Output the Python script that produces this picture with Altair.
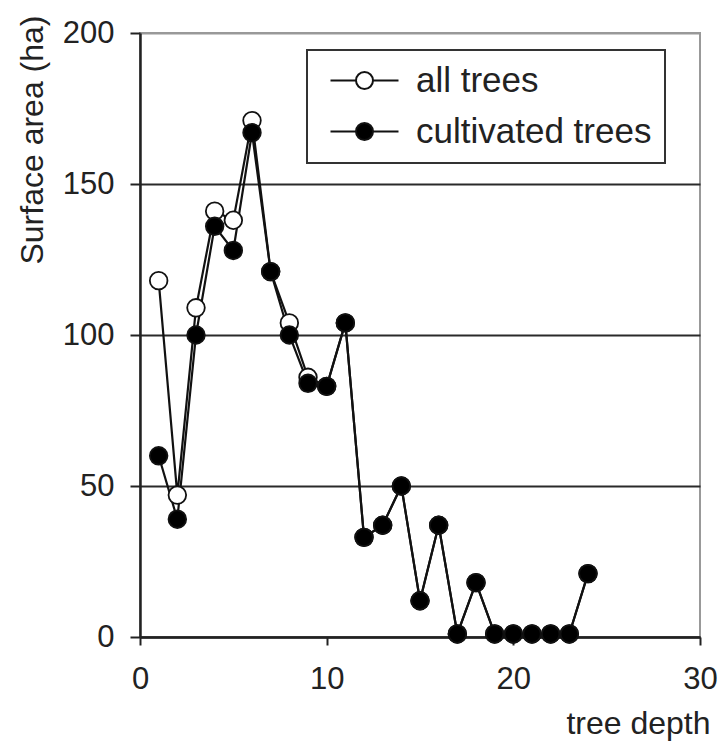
import altair as alt
import pandas as pd

depth = list(range(1, 25))
all_trees = [118, 47, 109, 141, 138, 171, 121, 104, 86, 83, 104, 33, 37, 50, 12, 37, 1, 18, 1, 1, 1, 1, 1, 21]
cultivated = [60, 39, 100, 136, 128, 167, 121, 100, 84, 83, 104, 33, 37, 50, 12, 37, 1, 18, 1, 1, 1, 1, 1, 21]
series_names = ["all trees", "cultivated trees"]
x_ticks = [0, 10, 20, 30]
y_ticks = [0, 50, 100, 150, 200]

rows = []
for d, v in zip(depth, all_trees):
    rows.append({"depth": d, "area": v, "series": series_names[0], "order": 0})
for d, v in zip(depth, cultivated):
    rows.append({"depth": d, "area": v, "series": series_names[1], "order": 1})
df = pd.DataFrame(rows)

FONT = "Liberation Sans"

x = alt.X(
    "depth:Q",
    scale=alt.Scale(domain=[0, 30], nice=False, zero=False),
    axis=alt.Axis(
        values=x_ticks, title="tree depth", grid=False, labelFlush=False,
        domainColor="#222", domainWidth=2.5, tickColor="#222", tickWidth=2, tickSize=8,
        labelFontSize=31, labelFont=FONT, labelColor="#222", labelPadding=19,
        titleFontSize=32, titleFont=FONT, titleFontWeight="normal", titleColor="#222",
        titleAnchor="end", titleAlign="right", titleBaseline="alphabetic",
        titleX=570, titleY=96,
    ),
)
y = alt.Y(
    "area:Q",
    scale=alt.Scale(domain=[0, 200], nice=False),
    axis=alt.Axis(
        values=y_ticks, title="Surface area (ha)", grid=True, labelFlush=False,
        gridColor={"condition": {"test": "datum.value === 200", "value": "#999"}, "value": "#2a2a2a"},
        gridWidth=2.2,
        domainColor="#222", domainWidth=2.5, tickColor="#222", tickWidth=2, tickSize=10,
        labelFontSize=31, labelFont=FONT, labelColor="#222", labelPadding=16,
        titleFontSize=32, titleFont=FONT, titleFontWeight="normal", titleColor="#222",
        titleAlign="right", titleBaseline="middle", titleAngle=270,
        titleX=-108, titleY=-18,
    ),
)

base = alt.Chart(df)

lines = base.mark_line(color="#111", strokeWidth=2.2).encode(
    x=x, y=y, detail="series:N", order="depth:Q"
)

legend_symbol = "M-4,0L-1,0M1,0L4,0M-1,0A1,1,0,1,1,1,0A1,1,0,1,1,-1,0Z"

points = base.mark_point(shape="circle", filled=True, size=310, stroke="#111", strokeWidth=1.8, opacity=1).encode(
    x=x, y=y,
    fill=alt.Fill(
        "series:N",
        scale=alt.Scale(domain=series_names, range=["white", "black"]),
        legend=alt.Legend(
            title=None, orient="none", legendX=167, legendY=17,
            symbolType=legend_symbol, symbolSize=289, symbolStrokeColor="#111", symbolStrokeWidth=2,
            symbolOffset=27, labelOffset=34, labelLimit=400,
            labelFontSize=35, labelFont=FONT, labelColor="#222",
            rowPadding=15, padding=13,
            strokeColor="#333", fillColor="white",
        ),
    ),
    order="order:Q",
)

chart = alt.layer(lines, points).properties(
    width=560, height=604,
    autosize=alt.AutoSizeParams(type="none"),
    padding={"left": 132, "top": 25, "right": 18, "bottom": 110},
).configure_view(
    stroke="#999", strokeWidth=2
).configure_legend(
    strokeWidth=2
)

chart.save("out.html", embed_options={"renderer": "svg", "actions": False})
